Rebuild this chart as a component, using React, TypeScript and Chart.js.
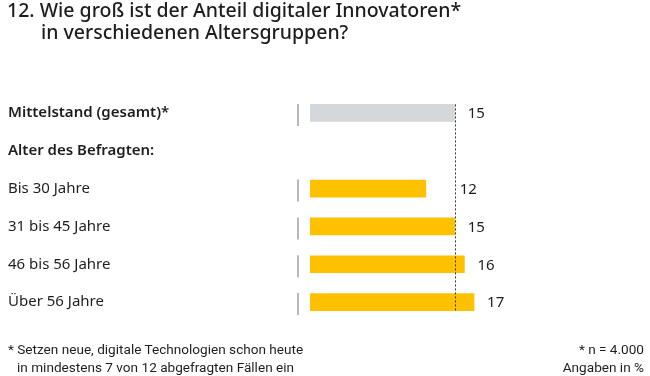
import React, { useEffect, useRef } from "react";
import { Chart, registerables } from "chart.js";

Chart.register(...registerables);

const categories = [
  "Mittelstand (gesamt)*",
  "Alter des Befragten:",
  "Bis 30 Jahre",
  "31 bis 45 Jahre",
  "46 bis 56 Jahre",
  "Über 56 Jahre",
];
const values: (number | null)[] = [15, null, 12, 15, 16, 17];
const boldRows = [true, true, false, false, false, false];
const referenceValue = 15;
const titleLines = [
  "12. Wie groß ist der Anteil digitaler Innovatoren*",
  "in verschiedenen Altersgruppen?",
];
const footnoteLeft = [
  "* Setzen neue, digitale Technologien schon heute",
  "in mindestens 7 von 12 abgefragten Fällen ein",
];
const footnoteRight = ["* n = 4.000", "Angaben in %"];

const GRAY = "#d5d8db";
const YELLOW = "#fdc100";
const TEXT = "#1e1e1e";
const FONT = "'Noto Sans', 'Open Sans', sans-serif";
const NARROW = "'Liberation Sans Narrow', 'Roboto', sans-serif";
const BAR_THICKNESS = 17;

const overlayPlugin = {
  id: "overlay",
  afterDatasetsDraw(chart: any) {
    const { ctx, chartArea, scales } = chart;
    const xs = scales.x;
    const ys = scales.y;
    const refX = xs.getPixelForValue(referenceValue);
    ctx.save();
    // small vertical tick marks left of each bar
    ctx.strokeStyle = "#a0a0a0";
    ctx.lineWidth = 1.5;
    values.forEach((v, i) => {
      if (v === null) return;
      const y = ys.getPixelForValue(i);
      const x = chartArea.left - 12;
      ctx.beginPath();
      ctx.moveTo(x, y - 9);
      ctx.lineTo(x, y + 13);
      ctx.stroke();
    });
    // dotted reference line
    const firstIdx = values.findIndex((v) => v !== null);
    let lastIdx = values.length - 1;
    while (lastIdx > 0 && values[lastIdx] === null) lastIdx--;
    ctx.strokeStyle = "#333333";
    ctx.lineWidth = 1;
    ctx.setLineDash([2, 2]);
    ctx.beginPath();
    ctx.moveTo(Math.round(refX) + 0.5, ys.getPixelForValue(firstIdx) - BAR_THICKNESS / 2);
    ctx.lineTo(Math.round(refX) + 0.5, ys.getPixelForValue(lastIdx) + BAR_THICKNESS / 2);
    ctx.stroke();
    ctx.setLineDash([]);
    // value labels
    ctx.fillStyle = TEXT;
    ctx.font = `15px ${FONT}`;
    ctx.textBaseline = "middle";
    ctx.textAlign = "left";
    values.forEach((v, i) => {
      if (v === null) return;
      const y = ys.getPixelForValue(i);
      const end = xs.getPixelForValue(v);
      const x = v < referenceValue ? refX + 5 : end + 13;
      ctx.fillText(String(v), x, y + 1);
    });
    ctx.restore();
  },
};

export default function App() {
  const canvasRef = useRef<HTMLCanvasElement | null>(null);

  useEffect(() => {
    if (!canvasRef.current) return;
    const chart = new Chart(canvasRef.current, {
      type: "bar",
      data: {
        labels: categories,
        datasets: [
          {
            data: values as any,
            backgroundColor: values.map((_, i) => (i === 0 ? GRAY : YELLOW)),
            barThickness: BAR_THICKNESS,
            borderWidth: 0,
          },
        ],
      },
      options: {
        indexAxis: "y",
        responsive: false,
        animation: false,
        layout: { padding: { left: 8, top: 94, bottom: 55, right: 50.5 } },
        plugins: {
          legend: { display: false },
          tooltip: { enabled: false },
          title: { display: false },
        },
        scales: {
          x: { display: false, min: 0, max: 30 },
          y: {
            afterFit: (s: any) => {
              s.width = 302;
            },
            grid: { display: false },
            border: { display: false },
            ticks: {
              crossAlign: "far",
              padding: 0,
              color: TEXT,
              font: (c: any) => ({
                family: FONT,
                size: 15,
                weight: boldRows[c.index] ? "600" : "normal",
              }),
            },
          },
        },
      },
      plugins: [overlayPlugin],
    });
    return () => chart.destroy();
  }, []);

  return (
    <div
      style={{
        position: "absolute",
        left: 0,
        top: 0,
        width: 650,
        height: 376,
        background: "#fff",
        overflow: "hidden",
      }}
    >
      <canvas ref={canvasRef} width={650} height={376} style={{ position: "absolute", left: 0, top: 0 }} />
      <div
        style={{
          position: "absolute",
          left: 7,
          top: -1,
          fontFamily: FONT,
          fontSize: 19.5,
          fontWeight: 500,
          lineHeight: "22px",
          color: TEXT,
          whiteSpace: "nowrap",
        }}
      >
        <div>{titleLines[0]}</div>
        <div style={{ paddingLeft: 34 }}>{titleLines[1]}</div>
      </div>
      <div
        style={{
          position: "absolute",
          left: 8,
          top: 340,
          fontFamily: NARROW,
          fontSize: 13.6,
          lineHeight: "18px",
          color: TEXT,
          whiteSpace: "nowrap",
        }}
      >
        <div>{footnoteLeft[0]}</div>
        <div style={{ paddingLeft: 9 }}>{footnoteLeft[1]}</div>
      </div>
      <div
        style={{
          position: "absolute",
          right: 6,
          top: 340,
          fontFamily: NARROW,
          fontSize: 13.6,
          lineHeight: "18px",
          color: TEXT,
          textAlign: "right",
          whiteSpace: "nowrap",
        }}
      >
        <div>{footnoteRight[0]}</div>
        <div>{footnoteRight[1]}</div>
      </div>
    </div>
  );
}
